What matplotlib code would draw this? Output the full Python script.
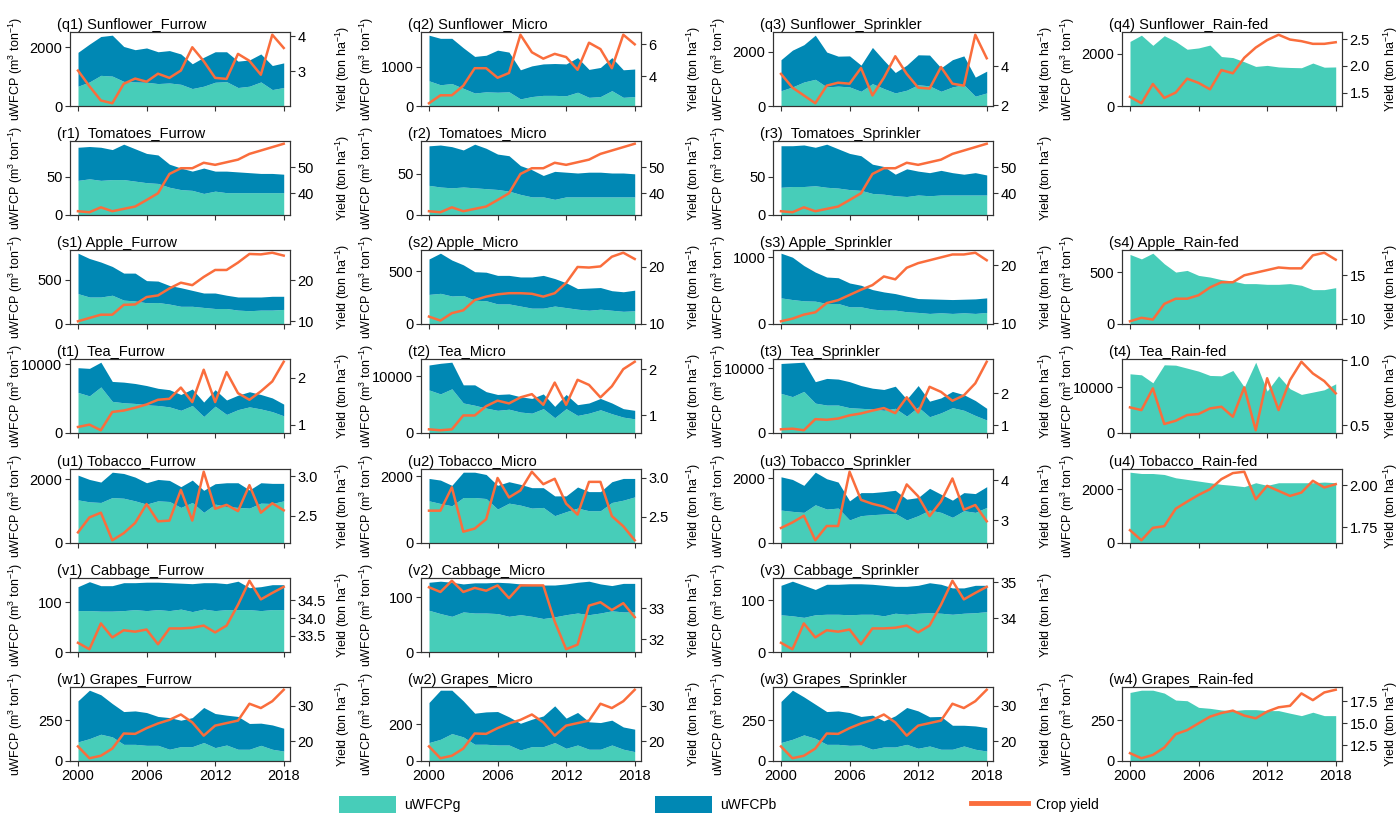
import matplotlib.pyplot as plt
from matplotlib.patches import Patch
from matplotlib.lines import Line2D

plt.rcParams['font.family'] = ['Liberation Sans', 'DejaVu Sans']
plt.rcParams['mathtext.fontset'] = 'custom'
plt.rcParams['mathtext.rm'] = 'Liberation Sans'
plt.rcParams['mathtext.it'] = 'Liberation Sans:italic'

years = list(range(2000, 2019))

# ---- data: *_g = uWFCPg, *_gb = uWFCPg + uWFCPb (top of stack), *_y = crop yield ----
q1_g = [675, 820, 1045, 1020, 840, 820, 810, 765, 785, 740, 595, 675, 810, 830, 630, 675, 820, 560, 630]
q1_gb = [1830, 2110, 2370, 2415, 2030, 1920, 1980, 1850, 1890, 1775, 1440, 1660, 1850, 1850, 1530, 1570, 1775, 1380, 1470]
q1_y = [3.02, 2.57, 2.16, 2.08, 2.64, 2.79, 2.70, 2.93, 2.81, 3.02, 3.69, 3.29, 2.81, 2.78, 3.50, 3.30, 2.90, 4.05, 3.67]

q2_g = [640, 540, 570, 450, 330, 360, 350, 360, 180, 240, 270, 270, 260, 350, 220, 240, 390, 220, 240]
q2_gb = [1800, 1720, 1720, 1480, 1260, 1290, 1420, 1370, 920, 1020, 1070, 1080, 1070, 1230, 930, 980, 1230, 920, 940]
q2_y = [2.3, 2.8, 2.8, 3.4, 4.5, 4.5, 3.9, 4.2, 6.6, 5.5, 5.1, 5.4, 5.2, 4.4, 6.1, 5.7, 4.5, 6.6, 6.0]

q3_g = [560, 700, 880, 980, 700, 730, 700, 540, 820, 640, 480, 580, 780, 740, 540, 700, 780, 360, 480]
q3_gb = [1700, 2050, 2250, 2600, 1980, 1830, 1840, 1500, 2150, 1680, 1230, 1500, 1880, 1870, 1400, 1700, 1840, 1060, 1280]
q3_y = [3.6, 2.9, 2.5, 2.1, 3.0, 3.15, 3.1, 3.9, 2.5, 3.4, 4.5, 3.6, 2.9, 2.85, 3.95, 3.1, 3.0, 5.6, 4.4]

q4_g = [2480, 2720, 2330, 2700, 2480, 2180, 2230, 2340, 1900, 1860, 1700, 1520, 1560, 1500, 1480, 1470, 1650, 1490, 1500]
q4_y = [1.42, 1.30, 1.66, 1.40, 1.50, 1.76, 1.68, 1.56, 1.92, 1.86, 2.15, 2.34, 2.48, 2.58, 2.49, 2.46, 2.41, 2.41, 2.44]

r1_g = [45, 47, 45, 46, 46, 44, 42, 41, 36, 33, 32, 28, 31, 29, 29, 29, 29, 29, 29]
r1_gb = [88, 89, 88, 85, 92, 86, 80, 78, 66, 61, 57, 61, 57, 57, 56, 55, 54, 54, 53]
r2_g = [36, 34, 33, 34, 33, 32, 31, 29, 25, 22, 22, 19, 22, 22, 22, 22, 22, 22, 22]
r2_gb = [84, 85, 83, 79, 86, 81, 74, 72, 60, 55, 48, 53, 52, 51, 52, 52, 51, 51, 50]
r3_g = [36, 37, 37, 38, 36, 35, 33, 32, 28, 27, 25, 24, 26, 25, 26, 26, 26, 26, 26]
r3_gb = [90, 90, 91, 88, 92, 86, 80, 77, 66, 63, 53, 60, 57, 55, 58, 55, 53, 55, 52]
tomato_y = [33.1, 32.7, 34.6, 33.1, 34.0, 34.9, 37.4, 40.0, 47.4, 49.6, 49.6, 51.7, 50.9, 51.9, 52.9, 55.1, 56.4, 57.7, 59.0]

s1_g = [343, 305, 305, 325, 270, 260, 240, 243, 225, 200, 200, 187, 175, 175, 157, 150, 157, 157, 165]
s1_gb = [800, 740, 700, 650, 575, 575, 490, 485, 435, 410, 380, 350, 350, 325, 305, 305, 305, 313, 313]
s1_y = [10.0, 10.8, 11.6, 11.6, 14.0, 14.1, 15.9, 16.3, 18.0, 19.4, 18.8, 20.8, 22.5, 22.5, 24.3, 26.4, 26.3, 26.7, 26.0]

s2_g = [280, 290, 265, 270, 225, 220, 190, 190, 170, 150, 150, 170, 155, 140, 130, 140, 130, 120, 125]
s2_gb = [615, 670, 605, 560, 495, 490, 460, 460, 445, 445, 460, 430, 390, 335, 340, 345, 315, 305, 320]
s2_y = [11.3, 10.6, 11.9, 12.4, 14.2, 14.8, 15.2, 15.4, 15.4, 15.3, 14.8, 15.4, 17.2, 20.0, 19.9, 20.1, 21.8, 22.5, 21.4]

s3_g = [391, 366, 347, 342, 307, 307, 257, 257, 223, 208, 208, 183, 173, 158, 168, 158, 168, 158, 173]
s3_gb = [1060, 1000, 875, 777, 703, 693, 614, 580, 515, 480, 455, 416, 381, 376, 371, 366, 371, 376, 391]
s3_y = [10.35, 10.8, 11.5, 11.9, 13.5, 14.0, 14.9, 15.8, 16.6, 18.1, 17.6, 19.6, 20.4, 20.9, 21.4, 21.9, 21.9, 22.2, 20.9]

s4_g = [670, 627, 682, 580, 500, 516, 468, 452, 427, 414, 389, 389, 382, 382, 389, 373, 331, 331, 350]
s4_y = [9.7, 10.1, 9.9, 11.7, 12.3, 12.3, 12.7, 13.6, 14.2, 14.2, 15.0, 15.3, 15.6, 15.9, 15.8, 15.8, 17.3, 17.6, 16.8]

t1_g = [5900, 5400, 6700, 4600, 4400, 4300, 4100, 4000, 3800, 3300, 4000, 2400, 3900, 2700, 3400, 3800, 3500, 3100, 2500]
t1_gb = [9500, 9400, 10300, 7500, 7400, 7200, 6900, 6500, 6300, 5600, 6400, 4500, 6300, 4800, 5500, 6000, 5600, 5100, 4200]
t1_y = [0.95, 1.0, 0.88, 1.27, 1.3, 1.36, 1.43, 1.53, 1.55, 1.79, 1.48, 2.17, 1.48, 2.12, 1.67, 1.53, 1.71, 1.92, 2.34]

t2_g = [7600, 6900, 7800, 5300, 4900, 4400, 4000, 4200, 3700, 3500, 4300, 2700, 4300, 3100, 3500, 4100, 3400, 2800, 2500]
t2_gb = [12000, 12300, 12500, 8500, 8500, 7300, 6800, 6900, 6400, 6100, 6900, 4700, 6800, 5000, 5300, 6100, 5300, 4300, 4000]
t2_y = [0.70, 0.68, 0.70, 1.0, 1.0, 1.2, 1.32, 1.26, 1.39, 1.46, 1.23, 1.71, 1.23, 1.77, 1.66, 1.39, 1.63, 2.0, 2.16]

t3_g = [6100, 5600, 6400, 4600, 4300, 4300, 3900, 3800, 3700, 3500, 3800, 2600, 4000, 2500, 3100, 3900, 3500, 2700, 2000]
t3_gb = [10700, 10800, 10900, 7900, 8400, 8300, 7900, 7300, 6900, 6700, 7200, 5200, 7300, 4900, 5400, 6400, 5900, 5000, 3800]
t3_y = [0.87, 0.89, 0.84, 1.19, 1.17, 1.21, 1.31, 1.37, 1.46, 1.54, 1.38, 1.88, 1.40, 2.21, 2.05, 1.77, 1.94, 2.32, 3.0]

t4_g = [12900, 12680, 10940, 14860, 14780, 14130, 13480, 12540, 12460, 13620, 10000, 15430, 9130, 12460, 9640, 8410, 8910, 9420, 10720]
t4_y = [0.636, 0.615, 0.782, 0.508, 0.533, 0.577, 0.585, 0.628, 0.641, 0.564, 0.79, 0.46, 0.86, 0.615, 0.846, 0.987, 0.897, 0.838, 0.744]

u1_g = [1357, 1295, 1275, 1430, 1409, 1326, 1223, 1326, 1306, 1119, 1275, 964, 1223, 1150, 1119, 1098, 1254, 1243, 1326]
u1_gb = [2135, 2000, 1917, 2228, 2187, 2073, 1896, 2000, 1969, 1772, 1979, 1658, 1865, 1896, 1896, 1668, 1896, 1876, 1876]
u1_y = [2.29, 2.48, 2.54, 2.19, 2.28, 2.41, 2.65, 2.43, 2.44, 2.83, 2.44, 3.06, 2.59, 2.64, 2.56, 2.89, 2.54, 2.66, 2.57]

u2_g = [1261, 1182, 1113, 1360, 1360, 1330, 1015, 1192, 1133, 1044, 1064, 818, 936, 1044, 965, 965, 1212, 1281, 1379]
u2_gb = [1931, 1882, 1724, 2118, 2118, 2049, 1724, 1833, 1754, 1655, 1655, 1409, 1409, 1675, 1537, 1537, 1833, 1931, 1931]
u2_y = [2.58, 2.58, 2.88, 2.31, 2.35, 2.47, 3.0, 2.75, 2.84, 3.08, 2.92, 2.99, 2.67, 2.53, 2.95, 2.95, 2.51, 2.38, 2.20]

u3_g = [1020, 980, 949, 1184, 1051, 1082, 714, 847, 878, 898, 918, 714, 847, 1020, 949, 796, 1000, 949, 1102]
u3_gb = [2051, 1969, 1786, 2194, 1990, 1888, 1306, 1561, 1561, 1592, 1633, 1357, 1408, 1694, 1510, 1327, 1561, 1531, 1745]
u3_y = [2.80, 2.94, 3.11, 2.49, 2.85, 2.85, 4.22, 3.51, 3.41, 3.34, 3.21, 3.90, 3.60, 3.10, 3.47, 4.05, 3.26, 3.38, 2.97]

u4_g = [2638, 2589, 2589, 2552, 2429, 2368, 2307, 2245, 2184, 2147, 2098, 2245, 2147, 2245, 2245, 2245, 2245, 2270, 2245]
u4_y = [1.732, 1.672, 1.746, 1.756, 1.86, 1.902, 1.942, 1.976, 2.036, 2.072, 2.08, 1.916, 1.996, 1.966, 1.936, 1.956, 2.026, 1.986, 2.006]

v1_g = [83, 83, 82, 82, 83, 85, 83, 85, 83, 86, 81, 86, 83, 85, 85, 85, 83, 85, 85]
v1_gb = [131, 141, 133, 133, 139, 139, 140, 140, 139, 138, 137, 139, 139, 137, 142, 129, 131, 135, 135]
v2_g = [76, 70, 65, 73, 71, 71, 70, 65, 68, 65, 61, 64, 68, 71, 68, 71, 75, 73, 73]
v2_gb = [127, 129, 127, 124, 126, 126, 127, 126, 124, 123, 122, 122, 124, 127, 129, 124, 121, 125, 125]
v2_y = [33.67, 33.52, 33.88, 33.52, 33.65, 33.56, 33.73, 33.32, 33.73, 33.73, 33.73, 32.57, 31.68, 31.83, 33.08, 33.19, 32.94, 33.16, 32.71]
v3_g = [72, 70, 67, 72, 73, 73, 72, 73, 73, 70, 75, 73, 75, 76, 75, 73, 75, 76, 78]
v3_gb = [129, 137, 129, 121, 131, 131, 132, 132, 131, 129, 127, 127, 129, 134, 131, 124, 124, 129, 129]
cabbage_y = [33.31, 33.13, 33.85, 33.46, 33.66, 33.62, 33.68, 33.27, 33.71, 33.71, 33.73, 33.79, 33.60, 33.79, 34.37, 35.04, 34.52, 34.70, 34.87]

w1_g = [117, 137, 164, 148, 102, 102, 96, 96, 72, 88, 88, 113, 82, 98, 72, 72, 96, 72, 61]
w1_gb = [369, 434, 406, 352, 303, 307, 297, 273, 266, 250, 266, 328, 291, 281, 273, 230, 232, 221, 201]
w2_g = [100, 118, 149, 131, 91, 91, 87, 87, 60, 78, 78, 100, 69, 87, 64, 64, 87, 64, 51]
w2_gb = [318, 385, 385, 327, 260, 267, 269, 240, 205, 227, 245, 300, 233, 264, 213, 209, 222, 185, 173]
w3_g = [113, 133, 160, 139, 102, 102, 96, 98, 72, 86, 86, 102, 78, 92, 72, 72, 92, 72, 61]
w3_gb = [365, 434, 393, 348, 303, 307, 297, 273, 281, 246, 277, 328, 307, 271, 273, 219, 219, 215, 205]
grape_y = [18.6, 15.3, 16.0, 18.0, 22.2, 22.1, 23.7, 25.0, 26.0, 27.5, 25.3, 21.6, 24.4, 25.1, 25.8, 30.5, 29.3, 31.2, 34.4]
w4_g = [423, 437, 437, 419, 376, 372, 331, 325, 315, 311, 317, 317, 311, 311, 295, 280, 301, 280, 280]
w4_y = [11.58, 11.0, 11.38, 12.23, 13.76, 14.22, 15.0, 15.76, 16.18, 16.45, 15.88, 15.57, 16.34, 16.83, 17.0, 18.42, 17.65, 18.53, 18.84]

year_ticks = [2000, 2006, 2012, 2018]

GREEN = '#47CDB9'
BLUE = '#0088B4'
ORANGE = '#FA6D3C'
EDGE = '#333333'

# (row, col, tag, title, green, green+blue, yield, left tick labels, right tick labels)
panels = [
    (0, 0, 'q1', ' Sunflower_Furrow', q1_g, q1_gb, q1_y, ['0', '2000'], ['3', '4']),
    (0, 1, 'q2', ' Sunflower_Micro', q2_g, q2_gb, q2_y, ['0', '1000'], ['4', '6']),
    (0, 2, 'q3', ' Sunflower_Sprinkler', q3_g, q3_gb, q3_y, ['0', '2000'], ['2', '4']),
    (0, 3, 'q4', ' Sunflower_Rain-fed', q4_g, None, q4_y, ['0', '2000'], ['1.5', '2.0', '2.5']),
    (1, 0, 'r1', '  Tomatoes_Furrow', r1_g, r1_gb, tomato_y, ['0', '50'], ['40', '50']),
    (1, 1, 'r2', '  Tomatoes_Micro', r2_g, r2_gb, tomato_y, ['0', '50'], ['40', '50']),
    (1, 2, 'r3', '  Tomatoes_Sprinkler', r3_g, r3_gb, tomato_y, ['0', '50'], ['40', '50']),
    (2, 0, 's1', ' Apple_Furrow', s1_g, s1_gb, s1_y, ['0', '500'], ['10', '20']),
    (2, 1, 's2', ' Apple_Micro', s2_g, s2_gb, s2_y, ['0', '500'], ['10', '20']),
    (2, 2, 's3', ' Apple_Sprinkler', s3_g, s3_gb, s3_y, ['0', '1000'], ['10', '20']),
    (2, 3, 's4', ' Apple_Rain-fed', s4_g, None, s4_y, ['0', '500'], ['10', '15']),
    (3, 0, 't1', '  Tea_Furrow', t1_g, t1_gb, t1_y, ['0', '10000'], ['1', '2']),
    (3, 1, 't2', '  Tea_Micro', t2_g, t2_gb, t2_y, ['0', '10000'], ['1', '2']),
    (3, 2, 't3', '  Tea_Sprinkler', t3_g, t3_gb, t3_y, ['0', '10000'], ['1', '2']),
    (3, 3, 't4', '  Tea_Rain-fed', t4_g, None, t4_y, ['0', '10000'], ['0.5', '1.0']),
    (4, 0, 'u1', ' Tobacco_Furrow', u1_g, u1_gb, u1_y, ['0', '2000'], ['2.5', '3.0']),
    (4, 1, 'u2', ' Tobacco_Micro', u2_g, u2_gb, u2_y, ['0', '2000'], ['2.5', '3.0']),
    (4, 2, 'u3', ' Tobacco_Sprinkler', u3_g, u3_gb, u3_y, ['0', '2000'], ['3', '4']),
    (4, 3, 'u4', ' Tobacco_Rain-fed', u4_g, None, u4_y, ['0', '2000'], ['1.75', '2.00']),
    (5, 0, 'v1', '  Cabbage_Furrow', v1_g, v1_gb, cabbage_y, ['0', '100'], ['33.5', '34.0', '34.5']),
    (5, 1, 'v2', '  Cabbage_Micro', v2_g, v2_gb, v2_y, ['0', '100'], ['32', '33']),
    (5, 2, 'v3', '  Cabbage_Sprinkler', v3_g, v3_gb, cabbage_y, ['0', '100'], ['34', '35']),
    (6, 0, 'w1', ' Grapes_Furrow', w1_g, w1_gb, grape_y, ['0', '250'], ['20', '30']),
    (6, 1, 'w2', ' Grapes_Micro', w2_g, w2_gb, grape_y, ['0', '200'], ['20', '30']),
    (6, 2, 'w3', ' Grapes_Sprinkler', w3_g, w3_gb, grape_y, ['0', '250'], ['20', '30']),
    (6, 3, 'w4', ' Grapes_Rain-fed', w4_g, None, w4_y, ['0', '250'], ['12.5', '15.0', '17.5']),
]

W, H = 1399, 818
fig = plt.figure(figsize=(W / 100, H / 100), dpi=100)

col_x = [70, 421, 773, 1122]           # axes left edge, px
row_y = [106, 215, 324, 433, 543, 652, 761]  # axes bottom edge, px from top
ylab_off = [44, 44, 44, 40]            # right label offset, px
aw, ah = 220, 74

for row, col, tag, name, g, gb, yld, lt, rt in panels:
    ax = fig.add_axes([col_x[col] / W, 1 - row_y[row] / H, aw / W, ah / H])
    ax.fill_between(years, 0, g, color=GREEN, lw=0)
    top = g
    if gb is not None:
        ax.fill_between(years, g, gb, color=BLUE, lw=0)
        top = gb
    ax.set_ylim(0, max(top) * 1.045)
    ax.set_xlim(1999.3, 2018.55)
    ax.set_yticks([float(t) for t in lt])
    ax.set_yticklabels(lt)
    ax.set_xticks(year_ticks)
    if row == 6:
        ax.set_xticklabels([str(y) for y in year_ticks])
    else:
        ax.set_xticklabels([])
    ax.tick_params(length=3.5, width=0.8, color=EDGE, labelsize=10.5, pad=2)
    ax.set_title(f'({tag}){name}', loc='left', x=-13 / aw, pad=2, fontsize=10.5)
    ax.set_ylabel(r'uWFCP (m$^3$ ton$^{-1}$)', fontsize=9)
    ax.yaxis.set_label_coords(-45 / aw, 0.5)

    ax2 = ax.twinx()
    ax2.plot(years, yld, color=ORANGE, lw=1.8)
    lo, hi = min(yld), max(yld)
    pad = 0.04 * (hi - lo)
    ax2.set_ylim(lo - pad, hi + pad)
    ax2.set_yticks([float(t) for t in rt])
    ax2.set_yticklabels(rt)
    ax2.tick_params(length=3.5, width=0.8, color=EDGE, labelsize=10.5, pad=2)
    ax2.set_ylabel(r'Yield (ton ha$^{-1}$)', fontsize=9)
    ax2.yaxis.set_label_coords(1 + ylab_off[col] / aw, 0.5)
    for a in (ax, ax2):
        for s in a.spines.values():
            s.set_color(EDGE)
            s.set_linewidth(0.8)

handles = [
    Patch(facecolor=GREEN, label='uWFCPg'),
    Patch(facecolor=BLUE, label='uWFCPb'),
    Line2D([], [], color=ORANGE, lw=3.5, label='Crop yield'),
]
fig.legend(handles=handles, loc='center', bbox_to_anchor=(0.514, 0.016), ncol=3,
           frameon=False, fontsize=10, handlelength=4.1, handleheight=1.5,
           handletextpad=0.6, columnspacing=14)

fig.savefig('out.png', dpi=100)
